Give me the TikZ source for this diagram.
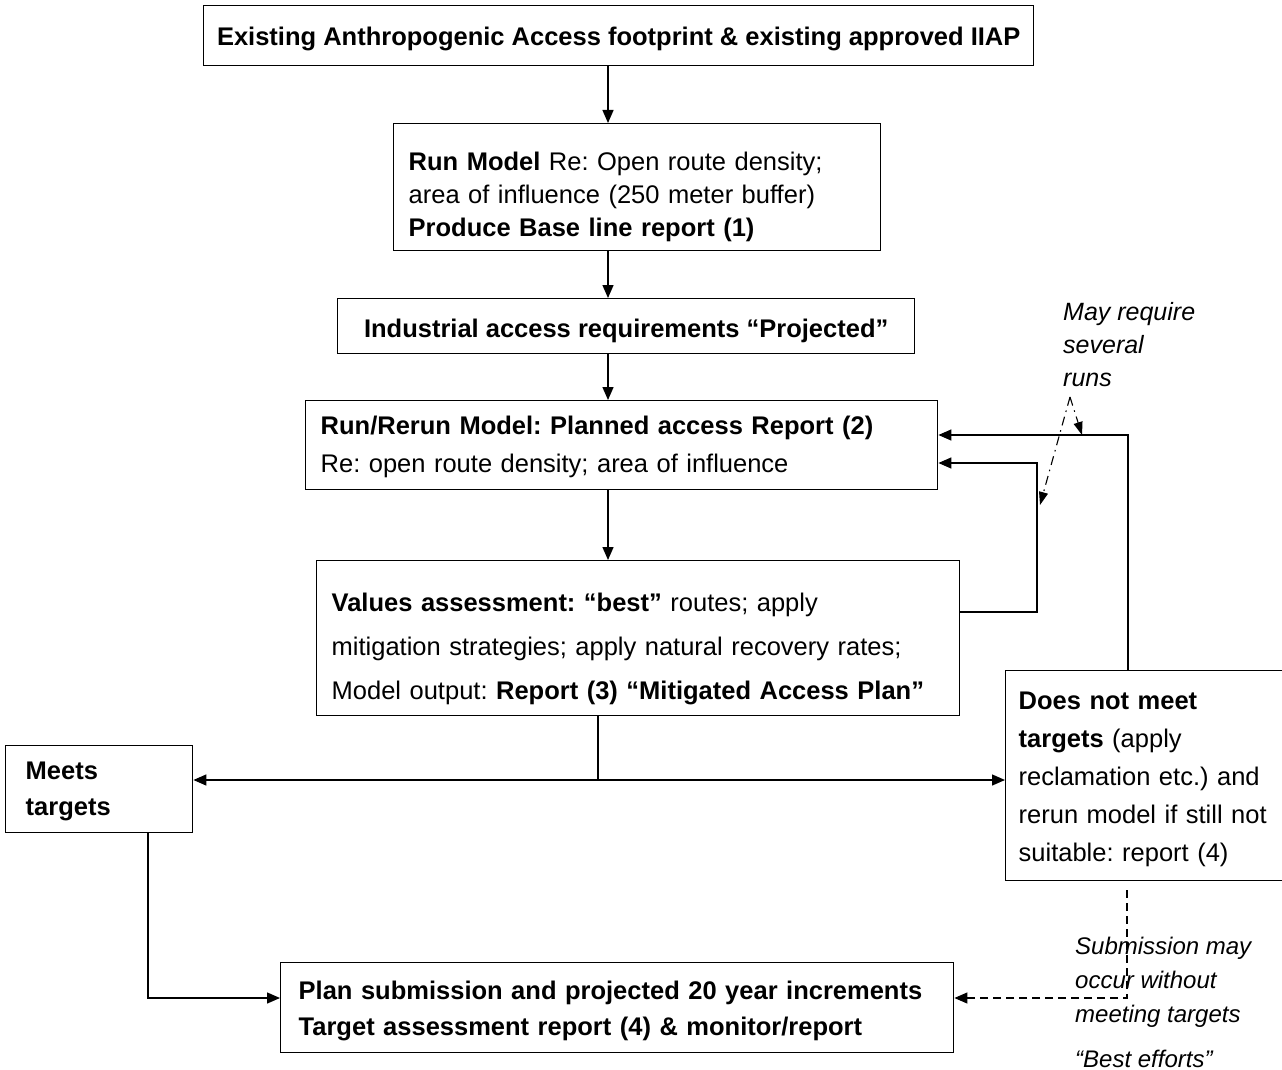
\documentclass[tikz,border=0pt]{standalone}
\usepackage{fontspec}
\setmainfont{Liberation Sans}
\usetikzlibrary{arrows.meta}
\begin{document}
\frenchspacing
\begin{tikzpicture}[x=1pt,y=-1pt,
  box/.style={draw, line width=1.4pt, align=left, inner xsep=16pt, inner ysep=0pt, anchor=north west, font=\fontsize{25.5}{36}\selectfont\frenchspacing},
  conn/.style={line width=1.4pt, -{Triangle[length=13pt,width=11pt]}},
  plain/.style={line width=1.4pt},
  note/.style={align=left, anchor=base west, inner sep=0pt, font=\fontsize{25}{33}\selectfont\itshape},
  dd/.style={line width=1.1pt, dash pattern=on 9pt off 5pt on 1.5pt off 5pt, -{Triangle[length=13pt,width=9pt]}}]
\useasboundingbox (0,0) rectangle (1282,1070);
\coordinate (ax) at (608,0);
% boxes
\node[box, align=center, inner xsep=8pt, minimum width=830pt, text height=40pt, text depth=20pt] (b1) at (203,5)
  {\textbf{Existing Anthropogenic Access footprint \& existing approved IIAP}};
\node[box, text width=457pt, inner xsep=15pt, text height=47pt, text depth=80pt, font=\fontsize{25.5}{33}\selectfont] (b2) at (393,123)
  {\mbox{\textbf{Run Model} Re: Open route density;}\\ \mbox{area of influence (250 meter buffer)}\\ \mbox{\textbf{Produce Base line report (1)}}};
\node[box, align=center, minimum width=577pt, text height=39pt, text depth=16pt] (b3) at (337,298)
  {\textbf{Industrial access requirements ``Projected''}};
\node[box, text width=602pt, inner xsep=15pt, text height=34pt, text depth=55pt, font=\fontsize{25.5}{38}\selectfont] (b4) at (305,400)
  {\mbox{\textbf{Run/Rerun Model: Planned access Report (2)}}\\ \mbox{Re: open route density; area of influence}};
\node[box, text width=613pt, inner xsep=15pt, text height=51pt, text depth=104pt, font=\fontsize{25.5}{44}\selectfont] (b5) at (316,560)
  {\mbox{\textbf{Values assessment: ``best''} routes; apply}\\ \mbox{mitigation strategies; apply natural recovery rates;}\\ \mbox{Model output: \textbf{Report (3) ``Mitigated Access Plan''}}};
\node[box, text width=147pt, inner xsep=20pt, text height=34pt, text depth=53pt, font=\fontsize{25.5}{36}\selectfont\bfseries] (b6) at (5,745)
  {Meets\\ targets};
\node[box, text width=251pt, inner xsep=13pt, text height=39pt, text depth=171pt, font=\fontsize{25.5}{38}\selectfont] (b7) at (1005,670)
  {\mbox{\textbf{Does not meet}}\\ \mbox{\textbf{targets} (apply}\\ \mbox{reclamation etc.) and}\\ \mbox{rerun model if still not}\\ \mbox{suitable: report (4)}};
\node[box, text width=637pt, inner xsep=18pt, text height=37pt, text depth=53pt, font=\fontsize{25.5}{36}\selectfont\bfseries] (b8) at (280,962)
  {\mbox{Plan submission and projected 20 year increments}\\ \mbox{Target assessment report (4) \& monitor/report}};
% notes
\node[note] (n1) at (1063,386) {May require\\ several\\ runs};
\node[note, font=\fontsize{24}{34}\selectfont\itshape] (n2) at (1075,1022) {Submission may\\ occur without\\ meeting targets};
\node[note, font=\fontsize{24}{34}\selectfont\itshape] (n3) at (1075,1067) {``Best efforts''};
% main arrows
\draw[conn] (b1.south -| ax) -- (b2.north -| ax);
\draw[conn] (b2.south -| ax) -- (b3.north -| ax);
\draw[conn] (b3.south -| ax) -- (b4.north -| ax);
\draw[conn] (b4.south -| ax) -- (b5.north -| ax);
% split
\coordinate (s) at (598,780);
\draw[plain] (b5.south -| s) -- (s);
\draw[conn] (s) -- (b6.east |- s);
\draw[conn] (s) -- (b7.west |- s);
% loop from b5
\coordinate (l1) at (1037,612);
\coordinate (l2) at (1037,463);
\draw[conn] (b5.east |- l1) -- (l1) -- (l2) -- (b4.east |- l2);
% loop from b7
\coordinate (r1) at (1128,435);
\draw[conn] (b7.north -| r1) -- (r1) -- (b4.east |- r1);
% meets to plan
\coordinate (m1) at (148,998);
\draw[conn] (b6.south -| m1) -- (m1) -- (b8.west |- m1);
% dashed submission
\coordinate (d0) at (1127,890);
\coordinate (d1) at (1127,998);
\draw[line width=1.2pt, dash pattern=on 8pt off 5pt, -{Triangle[length=13pt,width=11pt]}] (d0) -- (d1) -- (b8.east |- d1);
% dash-dot notes
\coordinate (t0) at (1070,397);
\coordinate (t1) at (1082,435);
\coordinate (t2) at (1040,505);
\draw[dd] (t0) -- (t1);
\draw[dd] (t0) -- (t2);
\end{tikzpicture}
\end{document}
